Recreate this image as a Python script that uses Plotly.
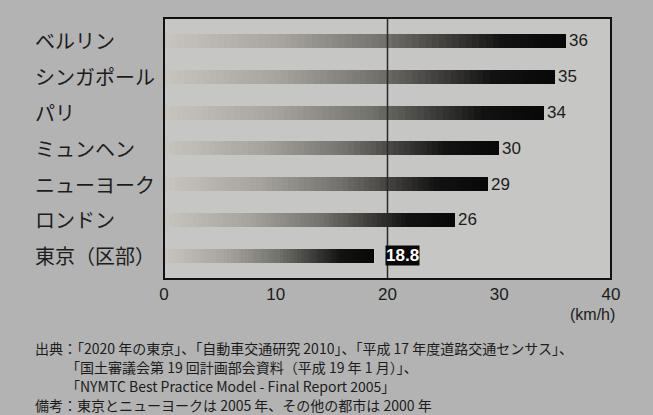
import plotly.graph_objects as go

cities = ["ベルリン", "シンガポール", "パリ", "ミュンヘン", "ニューヨーク", "ロンドン", "東京（区部）"]
speeds = [36, 35, 34, 30, 29, 26, 18.8]
value_labels = ["36", "35", "34", "30", "29", "26", "18.8"]
x_ticks = [0, 10, 20, 30, 40]
x_tick_labels = ["0", "10", "20", "30", "40"]
unit_label = "(km/h)"
notes = [
    "出典：「2020 年の東京」、「自動車交通研究 2010」、「平成 17 年度道路交通センサス」、",
    "「国土審議会第 19 回計画部会資料（平成 19 年 1 月）」、",
    "「NYMTC Best Practice Model - Final Report 2005」",
    "備考：東京とニューヨークは 2005 年、その他の都市は 2000 年",
]

W, H = 653, 415
L, R, T, B = 164, 42, 18, 136
PH = H - T - B

stops = [(0.0, (200, 198, 190)), (0.3, (166, 164, 157)), (0.55, (116, 114, 108)),
         (0.72, (62, 60, 57)), (0.85, (18, 18, 18)), (1.0, (8, 8, 8))]


def grad(t):
    for (a, ca), (b, cb) in zip(stops[:-1], stops[1:]):
        if t <= b:
            f = (t - a) / (b - a)
            c = [round(ca[i] + (cb[i] - ca[i]) * f) for i in range(3)]
            return f"rgb({c[0]},{c[1]},{c[2]})"
    return "rgb(8,8,8)"


N = 60
fig = go.Figure()
for k in range(N):
    frac = (N - k) / N
    fig.add_trace(go.Bar(
        y=cities, x=[v * frac for v in speeds], orientation="h",
        marker=dict(color=grad(frac), line=dict(width=0)),
        width=0.39, hoverinfo="skip", showlegend=False,
    ))

annotations = []
# category labels (left aligned)
for c in cities:
    annotations.append(dict(
        x=(33 - L) / (W - L - R), xref="paper", y=c, yref="y",
        text=c, showarrow=False, xanchor="left", yanchor="middle",
        font=dict(family="Noto Sans CJK JP", size=20, color="#1c1c1c"),
    ))
# value labels
for c, v, lab in zip(cities, speeds, value_labels):
    if lab == "18.8":
        annotations.append(dict(
            x=v, y=c, xref="x", yref="y", text="<b>" + lab + "</b>", showarrow=False,
            xanchor="left", yanchor="middle", xshift=11,
            font=dict(family="Liberation Sans", size=17, color="white"),
            bgcolor="#080808", borderpad=0,
        ))
    else:
        annotations.append(dict(
            x=v, y=c, xref="x", yref="y", text=lab, showarrow=False,
            xanchor="left", yanchor="middle", xshift=1,
            font=dict(family="Liberation Sans", size=17, color="#1c1c1c"),
        ))
annotations.append(dict(
    x=40, xref="x", y=(T + PH - 314) / PH, yref="paper", text=unit_label,
    showarrow=False, xanchor="right", yanchor="middle", xshift=6,
    font=dict(family="Liberation Sans", size=16, color="#1c1c1c"),
))
note_pos = [(33, 348), (64, 367), (64, 386), (33, 405)]
for txt, (px, py) in zip(notes, note_pos):
    annotations.append(dict(
        x=(px - L) / (W - L - R), xref="paper", y=(T + PH - py) / PH, yref="paper",
        text=txt, showarrow=False, xanchor="left", yanchor="middle",
        font=dict(family="Noto Sans CJK JP", size=14, color="#1c1c1c"),
    ))

shapes = [
    dict(type="line", xref="x", yref="paper", x0=20, x1=20, y0=0, y1=1,
         line=dict(color="#2a2a2a", width=1.5), layer="above"),
    dict(type="rect", xref="paper", yref="paper", x0=0, x1=1, y0=0, y1=1,
         line=dict(color="#111111", width=2), layer="above"),
]

fig.update_layout(
    width=W, height=H, margin=dict(l=L, r=R, t=T, b=B),
    paper_bgcolor="#b3b3b3", plot_bgcolor="#c6c6c4",
    barmode="overlay", bargap=0,
    xaxis=dict(range=[0, 40], tickvals=x_ticks, ticktext=x_tick_labels,
               showgrid=False, zeroline=False, showline=False, ticks="",
               ticklabelstandoff=3,
               tickfont=dict(family="Liberation Sans", size=17, color="#1c1c1c"),
               fixedrange=True),
    yaxis=dict(type="category", categoryorder="array", categoryarray=cities,
               range=[6.65, -0.64], showticklabels=False, showgrid=False,
               zeroline=False, showline=False, ticks="", fixedrange=True),
    annotations=annotations, shapes=shapes,
)

fig.write_html("out.html")
